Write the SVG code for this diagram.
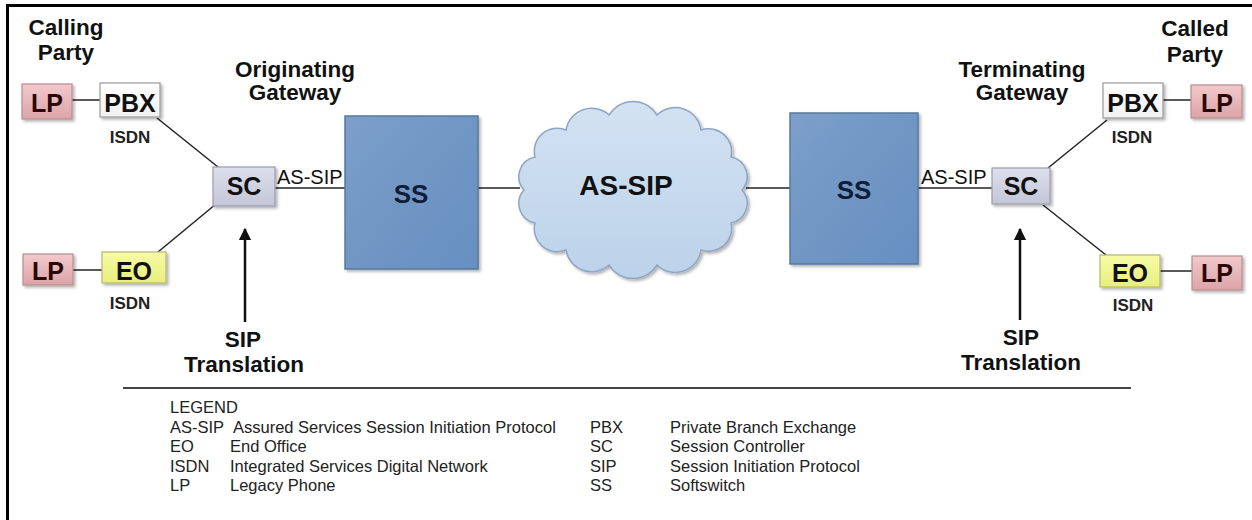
<svg xmlns="http://www.w3.org/2000/svg" width="1252" height="520" viewBox="0 0 1252 520">
<defs>
<linearGradient id="gLP" x1="0" y1="0" x2="0" y2="1"><stop offset="0" stop-color="#f2c9cc"/><stop offset="1" stop-color="#dca4a8"/></linearGradient>
<linearGradient id="gPBX" x1="0" y1="0" x2="0" y2="1"><stop offset="0" stop-color="#ffffff"/><stop offset="1" stop-color="#f1f1f1"/></linearGradient>
<linearGradient id="gEO" x1="0" y1="0" x2="0" y2="1"><stop offset="0" stop-color="#f7fba8"/><stop offset="1" stop-color="#e8ef7c"/></linearGradient>
<linearGradient id="gSC" x1="0" y1="0" x2="0" y2="1"><stop offset="0" stop-color="#dedfeb"/><stop offset="1" stop-color="#c4c6d8"/></linearGradient>
<linearGradient id="gSS" x1="0" y1="0" x2="1" y2="1"><stop offset="0" stop-color="#7d9fca"/><stop offset="0.5" stop-color="#7096c4"/><stop offset="1" stop-color="#6690c2"/></linearGradient>
<linearGradient id="gCloud" x1="0" y1="0" x2="0" y2="1"><stop offset="0" stop-color="#d3e2f2"/><stop offset="1" stop-color="#bcd2ea"/></linearGradient>
<filter id="sh" x="-20%" y="-20%" width="150%" height="150%"><feDropShadow dx="2" dy="2" stdDeviation="1.5" flood-color="#000" flood-opacity="0.3"/></filter>
<marker id="arr" viewBox="0 0 10 10" refX="9" refY="5" markerWidth="5" markerHeight="6" orient="auto" markerUnits="strokeWidth"><path d="M0,0 L10,5 L0,10 Z" fill="#111"/></marker>
<style>
.t{font-family:"Liberation Sans",Arial,sans-serif;fill:#111;}
.h{font-weight:bold;font-size:22.5px;text-anchor:middle;}
.nl{font-weight:bold;font-size:25px;text-anchor:middle;}
.isdn{font-weight:bold;font-size:17px;text-anchor:middle;fill:#222;}
.lbl{font-size:20px;fill:#111;}
.lg{font-size:16.5px;fill:#222;}
.lp{fill:url(#gLP);stroke:#b88c90;stroke-width:1.2;filter:url(#sh);}
.pbx{fill:url(#gPBX);stroke:#9a9a9a;stroke-width:1.2;filter:url(#sh);}
.eo{fill:url(#gEO);stroke:#b4b870;stroke-width:1.2;filter:url(#sh);}
.sc{fill:url(#gSC);stroke:#9a9cb0;stroke-width:1.2;filter:url(#sh);}
.ss{fill:url(#gSS);stroke:#56799f;stroke-width:1.5;filter:url(#sh);}
.ln{stroke:#222;stroke-width:1.5;fill:none;}
.ar{stroke:#111;stroke-width:2.5;fill:none;}
</style>
</defs>
<rect x="0" y="0" width="1252" height="520" fill="#ffffff"/>
<path d="M7.5,520 V5.5 H1252" fill="none" stroke="#000" stroke-width="3"/>

<g id="connectors">
<line class="ln" x1="72" y1="100" x2="100" y2="100"/>
<line class="ln" x1="157" y1="118" x2="218" y2="167"/>
<line class="ln" x1="73" y1="270" x2="102" y2="270"/>
<line class="ln" x1="158" y1="252" x2="216" y2="204"/>
<line class="ln" x1="275" y1="188" x2="345" y2="188"/>
<line class="ln" x1="478" y1="188" x2="520" y2="188"/>
<line class="ln" x1="746" y1="188" x2="790" y2="188"/>
<line class="ln" x1="918" y1="188" x2="992" y2="188"/>
<line class="ln" x1="1107" y1="120" x2="1048" y2="168"/>
<line class="ln" x1="1163" y1="100" x2="1191" y2="100"/>
<line class="ln" x1="1043" y1="205" x2="1106" y2="255"/>
<line class="ln" x1="1160" y1="271" x2="1192" y2="271"/>
<line class="ar" x1="245" y1="322" x2="245" y2="229" marker-end="url(#arr)"/>
<line class="ar" x1="1020" y1="320" x2="1020" y2="229" marker-end="url(#arr)"/>
</g>

<g id="calling-party"><text class="t h" x="66" y="35">Calling</text><text class="t h" x="66" y="60">Party</text></g>
<g id="called-party"><text class="t h" x="1195" y="36">Called</text><text class="t h" x="1195" y="62">Party</text></g>
<g id="originating-gateway"><text class="t h" x="295" y="77">Originating</text><text class="t h" x="295" y="100">Gateway</text></g>
<g id="terminating-gateway"><text class="t h" x="1022" y="77">Terminating</text><text class="t h" x="1022" y="100">Gateway</text></g>

<g id="lp-tl"><rect class="lp" x="22" y="84" width="50" height="35"/><text class="t nl" x="47" y="112" style="fill:#2a0808">LP</text></g>
<g id="pbx-left"><rect class="pbx" x="100" y="83" width="60" height="34"/><text class="t nl" x="130" y="112">PBX</text><text class="t isdn" x="130" y="143">ISDN</text></g>
<g id="lp-bl"><rect class="lp" x="23" y="254" width="50" height="31"/><text class="t nl" x="48" y="280" style="fill:#2a0808">LP</text></g>
<g id="eo-left"><rect class="eo" x="102" y="252" width="64" height="31"/><text class="t nl" x="134" y="280">EO</text><text class="t isdn" x="130" y="309">ISDN</text></g>
<g id="sc-left"><rect class="sc" x="213" y="167" width="62" height="39"/><text class="t nl" x="244" y="195">SC</text></g>
<g id="as-sip-left"><text class="t lbl" x="277" y="184">AS-SIP</text></g>
<g id="sip-translation-left"><text class="t h" x="243" y="347">SIP</text><text class="t h" x="244" y="372">Translation</text></g>

<g id="ss-left"><rect class="ss" x="345" y="116" width="133" height="153"/><text class="t" x="411" y="203" text-anchor="middle" style="font-weight:bold;font-size:26px;fill:#0f1d38">SS</text></g>

<g id="cloud">
<path d="M742,190 A20,20 0 0,1 731,223 A23,23 0 0,1 701,250 A26,26 0 0,1 657,265 A28,28 0 0,1 609,265 A26,26 0 0,1 566,250 A23,23 0 0,1 535,223 A20,20 0 0,1 524,190 A20,20 0 0,1 535,157 A23,23 0 0,1 566,130 A26,26 0 0,1 609,115 A28,28 0 0,1 657,115 A26,26 0 0,1 701,130 A23,23 0 0,1 731,157 A20,20 0 0,1 742,190 Z" fill="url(#gCloud)" stroke="#8ea6c4" stroke-width="1.5" filter="url(#sh)"/>
<text class="t" x="626" y="195" text-anchor="middle" style="font-weight:bold;font-size:28px;fill:#111">AS-SIP</text>
</g>

<g id="ss-right"><rect class="ss" x="790" y="113" width="128" height="151"/><text class="t" x="854" y="199" text-anchor="middle" style="font-weight:bold;font-size:26px;fill:#0f1d38">SS</text></g>

<g id="as-sip-right"><text class="t lbl" x="921" y="184">AS-SIP</text></g>
<g id="sc-right"><rect class="sc" x="992" y="168" width="58" height="36"/><text class="t nl" x="1021" y="195">SC</text></g>
<g id="sip-translation-right"><text class="t h" x="1021" y="345">SIP</text><text class="t h" x="1021" y="370">Translation</text></g>
<g id="pbx-right"><rect class="pbx" x="1103" y="83" width="60" height="35"/><text class="t nl" x="1133" y="112">PBX</text><text class="t isdn" x="1132" y="143">ISDN</text></g>
<g id="lp-tr"><rect class="lp" x="1191" y="85" width="51" height="33"/><text class="t nl" x="1217" y="112" style="fill:#2a0808">LP</text></g>
<g id="eo-right"><rect class="eo" x="1100" y="255" width="60" height="32"/><text class="t nl" x="1130" y="282">EO</text><text class="t isdn" x="1133" y="311">ISDN</text></g>
<g id="lp-br"><rect class="lp" x="1192" y="256" width="50" height="34"/><text class="t nl" x="1217" y="282" style="fill:#2a0808">LP</text></g>

<g id="legend">
<line x1="123" y1="388" x2="1131" y2="388" stroke="#444" stroke-width="2"/>
<text class="t lg" x="170" y="413">LEGEND</text>
<text class="t lg" x="170" y="433">AS-SIP</text><text class="t lg" x="233" y="433">Assured Services Session Initiation Protocol</text>
<text class="t lg" x="170" y="452">EO</text><text class="t lg" x="230" y="452">End Office</text>
<text class="t lg" x="170" y="472">ISDN</text><text class="t lg" x="230" y="472">Integrated Services Digital Network</text>
<text class="t lg" x="170" y="491">LP</text><text class="t lg" x="230" y="491">Legacy Phone</text>
<text class="t lg" x="590" y="433">PBX</text><text class="t lg" x="670" y="433">Private Branch Exchange</text>
<text class="t lg" x="590" y="452">SC</text><text class="t lg" x="670" y="452">Session Controller</text>
<text class="t lg" x="590" y="472">SIP</text><text class="t lg" x="670" y="472">Session Initiation Protocol</text>
<text class="t lg" x="590" y="491">SS</text><text class="t lg" x="670" y="491">Softswitch</text>
</g>
</svg>
